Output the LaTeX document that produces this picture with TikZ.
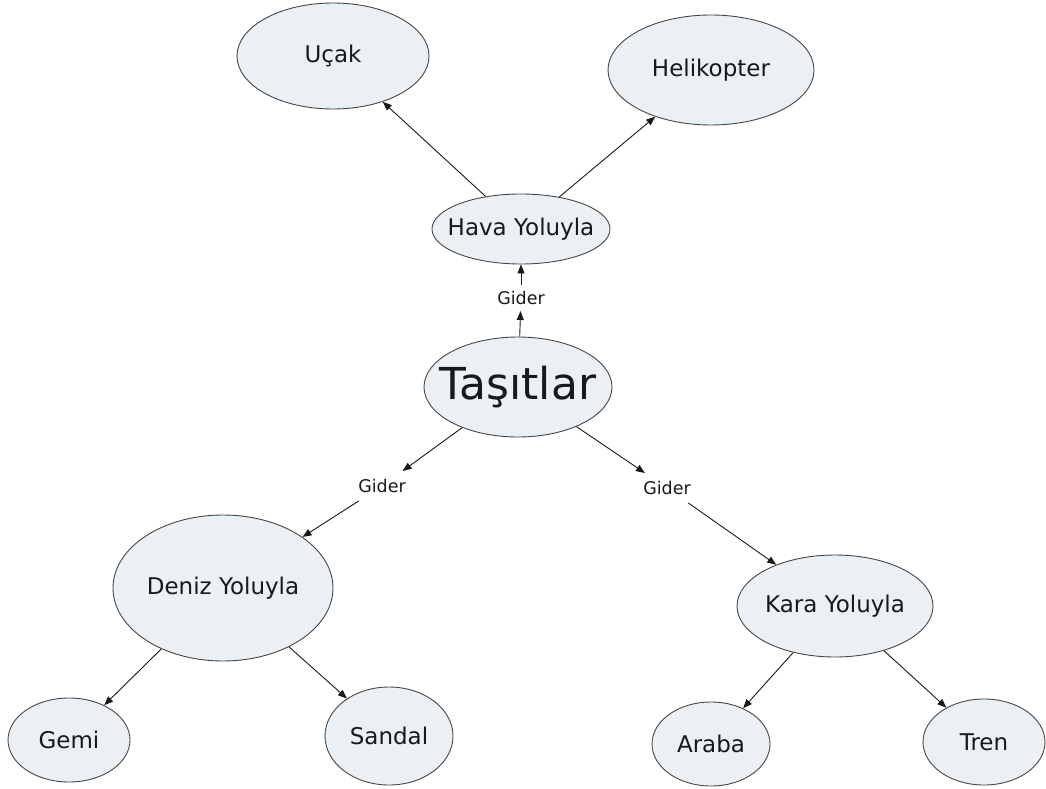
\documentclass[tikz,border=0pt]{standalone}
\usepackage{fontspec}
\setmainfont{DejaVu Sans}
\usetikzlibrary{shapes.geometric,arrows.meta}
\definecolor{bubble}{RGB}{234,240,244}
\definecolor{rim}{RGB}{70,70,70}
\definecolor{ink}{RGB}{25,25,25}
\begin{document}
\begin{tikzpicture}[x=1pt,y=-1pt,
  concept/.style={ellipse,draw=rim,fill=bubble,line width=0.9pt,inner sep=0pt,
    label={[text=ink,font=\fontsize{23}{27}\selectfont]center:#1}},
  bigconcept/.style={ellipse,draw=rim,fill=bubble,line width=0.9pt,inner sep=0pt,
    label={[text=ink,font=\fontsize{44}{50}\selectfont]center:#1}},
  linkword/.style={inner sep=6pt,text=ink,font=\fontsize{17.5}{20}\selectfont},
  link/.style={draw=ink,line width=0.9pt,-{Triangle[length=9pt,width=7pt]}}]
\useasboundingbox (0,0) rectangle (1046,789);

% concepts (text is set as a centred label so each ellipse keeps its own size)
\node[concept=Uçak,minimum width=192pt,minimum height=106pt]          (ucak)   at (333,56)  {};
\node[concept=Helikopter,minimum width=206pt,minimum height=110pt]    (heli)   at (711,70)  {};
\node[concept=Hava Yoluyla,minimum width=178pt,minimum height=70pt]   (hava)   at (521,229) {};
\node[bigconcept=Taşıtlar,minimum width=188pt,minimum height=100pt]   (tasit)  at (518,387) {};
\node[concept=Deniz Yoluyla,minimum width=220pt,minimum height=146pt] (deniz)  at (223,588) {};
\node[concept=Kara Yoluyla,minimum width=196pt,minimum height=102pt]  (kara)   at (835,606) {};
\node[concept=Gemi,minimum width=122pt,minimum height=84pt]           (gemi)   at (69,740)  {};
\node[concept=Sandal,minimum width=128pt,minimum height=98pt]         (sandal) at (389,736) {};
\node[concept=Araba,minimum width=118pt,minimum height=84pt]          (araba)  at (711,744) {};
\node[concept=Tren,minimum width=122pt,minimum height=86pt]           (tren)   at (984,742) {};

% linking words
\node[linkword] (g0) at (521,298) {Gider};
\node[linkword,inner sep=8pt] (g1) at (382,486) {Gider};
\node[linkword,inner sep=8pt] (g2) at (667,488) {Gider};

% connectors
\draw[link] (tasit) -- (g0);
\draw[link] (g0) -- (hava);
\draw[link] (hava) -- (ucak);
\draw[link] (hava) -- (heli);
\draw[link] (tasit) -- (g1);
\draw[link] (g1) -- (deniz);
\draw[link] (tasit) -- (g2);
\draw[link] (g2) -- (kara);
\draw[link] (deniz) -- (gemi);
\draw[link] (deniz) -- (sandal);
\draw[link] (kara) -- (araba);
\draw[link] (kara) -- (tren);
\end{tikzpicture}
\end{document}
